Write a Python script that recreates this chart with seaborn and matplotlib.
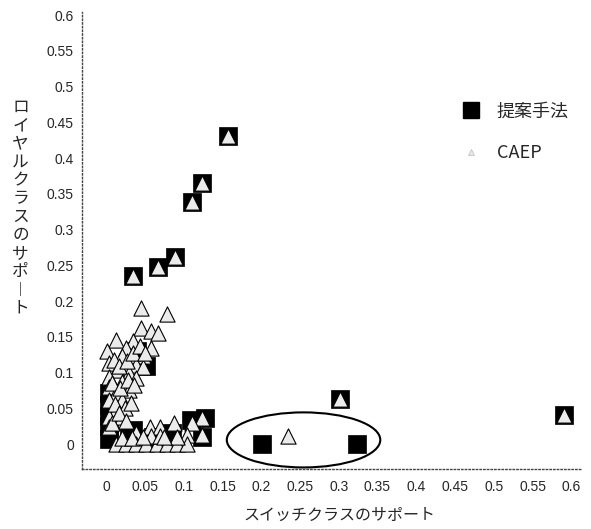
import numpy as np
import pandas as pd
import matplotlib
matplotlib.use("Agg")
import matplotlib.pyplot as plt
from matplotlib.patches import Ellipse
from matplotlib.lines import Line2D
import seaborn as sns

# 提案手法 (black squares)
prop_x = [0.157, 0.123, 0.111, 0.089, 0.067, 0.035, 0.302, 0.590, 0.201, 0.324,
          0.004, 0.004, 0.004, 0.004, 0.004, 0.034, 0.040, 0.052, 0.085, 0.110,
          0.127, 0.124, 0.030, 0.060]
prop_y = [0.431, 0.366, 0.339, 0.262, 0.248, 0.235, 0.063, 0.041, 0.000, 0.000,
          0.007, 0.025, 0.040, 0.055, 0.071, 0.020, 0.130, 0.110, 0.015, 0.034,
          0.037, 0.010, 0.015, 0.010]

# CAEP (triangles)
caep_x = [0.157, 0.123, 0.111, 0.089, 0.067, 0.035, 0.302, 0.590, 0.235,
          0.045, 0.079, 0.045, 0.058, 0.067, 0.013, 0.034, 0.026, 0.058, 0.001,
          0.047, 0.021, 0.004, 0.039, 0.047, 0.014, 0.030, 0.004, 0.039, 0.021,
          0.004, 0.030, 0.013, 0.021, 0.004, 0.013, 0.004, 0.021, 0.004, 0.056,
          0.069, 0.088, 0.123, 0.111, 0.123, 0.104, 0.039, 0.013, 0.026, 0.039,
          0.052, 0.065, 0.078, 0.091, 0.104, 0.058, 0.069, 0.091, 0.020, 0.033,
          0.047, 0.075, 0.010, 0.017, 0.027, 0.035, 0.043, 0.008, 0.018, 0.028,
          0.036, 0.050, 0.012, 0.024, 0.032, 0.008, 0.016, 0.026]
caep_y = [0.431, 0.366, 0.339, 0.262, 0.248, 0.235, 0.063, 0.041, 0.011,
          0.190, 0.182, 0.163, 0.158, 0.156, 0.146, 0.144, 0.135, 0.135, 0.130,
          0.123, 0.123, 0.114, 0.111, 0.108, 0.104, 0.100, 0.094, 0.093, 0.087,
          0.080, 0.076, 0.072, 0.062, 0.062, 0.048, 0.038, 0.038, 0.024, 0.024,
          0.024, 0.029, 0.037, 0.030, 0.013, 0.013, 0.016, 0.000, 0.000, 0.000,
          0.000, 0.000, 0.000, 0.000, 0.000, 0.012, 0.012, 0.010, 0.008, 0.008,
          0.010, 0.010, 0.118, 0.109, 0.116, 0.127, 0.138, 0.085, 0.079, 0.090,
          0.083, 0.128, 0.056, 0.051, 0.058, 0.030, 0.044, 0.032]

x_ticks = [0, 0.05, 0.1, 0.15, 0.2, 0.25, 0.3, 0.35, 0.4, 0.45, 0.5, 0.55, 0.6]
y_ticks = [0, 0.05, 0.1, 0.15, 0.2, 0.25, 0.3, 0.35, 0.4, 0.45, 0.5, 0.55, 0.6]
tick_labels = ["0", "0.05", "0.1", "0.15", "0.2", "0.25", "0.3", "0.35",
               "0.4", "0.45", "0.5", "0.55", "0.6"]

sns.set_style("white")
plt.rcParams['font.family'] = ['Liberation Sans', 'Noto Sans CJK JP', 'DejaVu Sans']

df_prop = pd.DataFrame({"x": prop_x, "y": prop_y})
df_caep = pd.DataFrame({"x": caep_x, "y": caep_y})

fig = plt.figure(figsize=(5.91, 5.29), dpi=100)
ax = fig.add_axes([0.139, 0.113, 0.846, 0.865])

sns.scatterplot(data=df_prop, x="x", y="y", marker="s", s=150, color="black",
                edgecolor="black", linewidth=0.5, ax=ax, zorder=3)
sns.scatterplot(data=df_caep, x="x", y="y", marker="^", s=120, color="#ebebeb",
                edgecolor="black", linewidth=0.8, ax=ax, zorder=4)

# 楕円
ax.add_patch(Ellipse((0.2546, 0.006), 0.198, 0.077, fill=False,
                     edgecolor="black", linewidth=1.5, zorder=5))

ax.set_xlim(-0.031, 0.614)
ax.set_ylim(-0.035, 0.605)
ax.set_xticks(x_ticks)
ax.set_xticklabels(tick_labels)
ax.set_yticks(y_ticks)
ax.set_yticklabels(tick_labels)
ax.tick_params(axis="both", labelsize=10, length=2, width=0.6, direction="out",
               color="#555555", pad=4)
ax.tick_params(axis="x", pad=6)

for s in ["top", "right"]:
    ax.spines[s].set_visible(False)
for s in ["left", "bottom"]:
    ax.spines[s].set_linestyle(":")
    ax.spines[s].set_linewidth(1.0)
    ax.spines[s].set_color("#444444")

ax.set_xlabel("")
ax.set_ylabel("")
fig.text(0.575, 0.025, "スイッチクラスのサポート", ha="center", va="center",
         fontsize=11.5, family=['Noto Sans CJK JP', 'DejaVu Sans'])
fig.text(0.035, 0.607, "\n".join(list("ロイヤルクラスのサポ︱ト")), ha="center",
         va="center", fontsize=12, linespacing=1.1,
         family=['Noto Sans CJK JP', 'DejaVu Sans'])

handles = [
    Line2D([], [], marker="s", linestyle="none", markersize=12,
           markerfacecolor="black", markeredgecolor="black"),
    Line2D([], [], marker="^", linestyle="none", markersize=4,
           markerfacecolor="#e8e8e8", markeredgecolor="#bbbbbb", markeredgewidth=0.5),
]
leg = ax.legend(handles, ["提案手法", "CAEP"], loc="upper left",
                bbox_to_anchor=(0.71, 0.837), frameon=False,
                handletextpad=0.4, labelspacing=1.3,
                prop={"family": ['Noto Sans CJK JP', 'DejaVu Sans'], "size": 13})

fig.savefig("out.png", dpi=100)
